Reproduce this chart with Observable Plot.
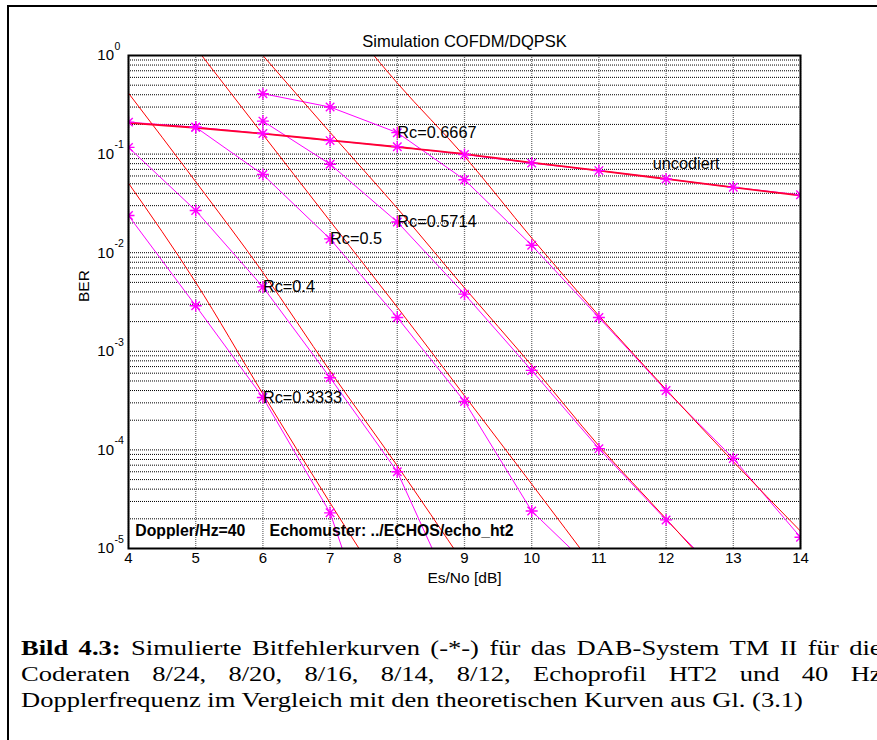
<!DOCTYPE html>
<html>
<head>
<meta charset="utf-8">
<script src="https://cdn.jsdelivr.net/npm/d3@7"></script>
<script src="https://cdn.jsdelivr.net/npm/@observablehq/plot@0.6"></script>
<style>
  html, body { margin: 0; padding: 0; background: #fff; overflow: hidden; }
  #page { position: relative; width: 877px; height: 740px; overflow: hidden; background: #fff; }
  #frame { position: absolute; left: 7px; top: 5px; width: 1000px; height: 1000px;
           border-left: 2px solid #000; border-top: 2px solid #000; }
  #chart { position: absolute; left: 0; top: 0; }
  #caption { position: absolute; left: 21px; top: 634.5px; width: 649px;
             transform: scaleX(1.326); transform-origin: 0 0;
             font-family: "Liberation Serif", "Times New Roman", serif; font-size: 20px;
             line-height: 26px; color: #000; white-space: nowrap; }
  #caption .j { text-align: justify; text-align-last: justify; white-space: normal; }
</style>
</head>
<body>
<div id="page">
  <div id="frame"></div>
  <div id="chart"></div>
  <div id="caption">
    <div class="j"><b>Bild 4.3:</b> Simulierte Bitfehlerkurven (-*-) für das DAB-System TM II für die</div>
    <div class="j">Coderaten 8/24, 8/20, 8/16, 8/14, 8/12, Echoprofil HT2 und 40 Hz</div>
    <div>Dopplerfrequenz im Vergleich mit den theoretischen Kurven aus Gl. (3.1)</div>
  </div>
</div>
<script>
// ---------- data ----------
const titleText = "Simulation COFDM/DQPSK";
const xLabel = "Es/No [dB]";
const yLabel = "BER";
const xTicks = [4, 5, 6, 7, 8, 9, 10, 11, 12, 13, 14];
const yMajorTicks = [1, 1e-1, 1e-2, 1e-3, 1e-4, 1e-5];

// simulated curves (magenta, -*-)
const simUncodedX = [4, 5, 6, 7, 8, 9, 10, 11, 12, 13, 14];
const simUncodedY = [0.211, 0.1875, 0.162, 0.137, 0.119, 0.099, 0.081, 0.068, 0.056, 0.046, 0.0386];
const simR3333X = [4, 5, 6, 7, 8];
const simR3333Y = [0.0238, 0.0029, 3.4e-4, 2.3e-5, 2.3e-7];
const simR4X = [4, 5, 6, 7, 8, 9];
const simR4Y = [0.117, 0.0268, 0.0045, 5.4e-4, 6.0e-5, 1.9e-6];
const simR5X = [5, 6, 7, 8, 9, 10, 11];
const simR5Y = [0.1875, 0.062, 0.0138, 2.2e-3, 3.1e-4, 2.4e-5, 5.3e-6];
const simR5714X = [6, 7, 8, 9, 10, 11, 12, 13];
const simR5714Y = [0.216, 0.079, 0.0205, 3.8e-3, 6.4e-4, 1.03e-4, 1.95e-5, 4.0e-6];
const simR6667X = [6, 7, 8, 9, 10, 11, 12, 13, 14];
const simR6667Y = [0.41, 0.30, 0.165, 0.055, 0.0119, 2.2e-3, 4.0e-4, 8.2e-5, 1.3e-5];

// theoretical curves (red)
const thUncodedX = [4, 5, 6, 7, 8, 9, 10, 11, 12, 13, 14];
const thUncodedY = [0.207, 0.185, 0.161, 0.138, 0.118, 0.100, 0.082, 0.068, 0.056, 0.046, 0.038];
const thR3333X = [4, 5, 6, 7, 8];
const thR3333Y = [0.0507, 5.0e-3, 3.7e-4, 2.9e-5, 2.5e-6];
const thR4X = [4, 5, 6, 7, 8, 9];
const thR4Y = [0.415, 0.0525, 6.3e-3, 6.3e-4, 6.9e-5, 6.9e-6];
const thR5X = [5, 6, 7, 8, 9, 10, 11];
const thR5Y = [1.2, 0.158, 0.0209, 2.8e-3, 3.55e-4, 4.5e-5, 5.6e-6];
const thR5714X = [6, 7, 8, 9, 10, 11, 12, 13];
const thR5714Y = [1.0, 0.166, 0.0282, 4.4e-3, 7.2e-4, 1.1e-4, 2.0e-5, 3.5e-6];
const thR6667X = [7, 8, 9, 10, 11, 12, 13, 14];
const thR6667Y = [3.5, 0.525, 0.095, 0.0141, 2.3e-3, 4.1e-4, 7.6e-5, 1.5e-5];

// annotations
const rateLabels = ["Rc=0.6667", "Rc=0.5714", "Rc=0.5", "Rc=0.4", "Rc=0.3333", "uncodiert"];
const rateLabelX = [8, 8, 7, 6, 6, 11.8];
const rateLabelY = [0.165, 0.0205, 0.0138, 0.0045, 3.4e-4, 0.0803];
const infoTexts = ["Doppler/Hz=40", "Echomuster: ../ECHOS/echo_ht2"];
const infoX = [4.1, 6.1];
const infoY = [1.5e-5, 1.5e-5];

// ---------- build tables ----------
function rows(name, xs, ys) { return xs.map((x, i) => ({series: name, x, y: ys[i]})); }
const simRows = [
  ...rows("uncodiert", simUncodedX, simUncodedY),
  ...rows("0.3333", simR3333X, simR3333Y),
  ...rows("0.4", simR4X, simR4Y),
  ...rows("0.5", simR5X, simR5Y),
  ...rows("0.5714", simR5714X, simR5714Y),
  ...rows("0.6667", simR6667X, simR6667Y)
];
const thCodedRows = [
  ...rows("0.3333", thR3333X, thR3333Y),
  ...rows("0.4", thR4X, thR4Y),
  ...rows("0.5", thR5X, thR5Y),
  ...rows("0.5714", thR5714X, thR5714Y),
  ...rows("0.6667", thR6667X, thR6667Y)
];
const thUncodedRows = rows("uncodiert", thUncodedX, thUncodedY);
const labelRows = rateLabels.map((t, i) => ({t, x: rateLabelX[i], y: rateLabelY[i]}));
const infoRows = infoTexts.map((t, i) => ({t, x: infoX[i], y: infoY[i]}));
const yGrid = d3.scaleLog().domain([1e-5, 1]).ticks();

// Matlab-style '*' marker: plus + cross
const asterisk = {
  draw(context, size) {
    const r = Math.sqrt(size / Math.PI);
    const d = r * Math.SQRT1_2;
    context.moveTo(-r, 0); context.lineTo(r, 0);
    context.moveTo(0, -r); context.lineTo(0, r);
    context.moveTo(-d, -d); context.lineTo(d, d);
    context.moveTo(-d, d); context.lineTo(d, -d);
  }
};

const W = 877, H = 600;
const chart = Plot.plot({
  width: W,
  height: H,
  marginLeft: 128,
  marginRight: 77,
  marginTop: 55,
  marginBottom: H - 548,
  style: {fontFamily: "'Liberation Sans', Arial, sans-serif", fontSize: "15px", background: "transparent", color: "#000"},
  x: {domain: [4, 14], axis: null},
  y: {type: "log", domain: [1e-5, 1], axis: null},
  marks: [
    Plot.ruleY(yGrid, {stroke: "#000", strokeDasharray: "1,1", strokeOpacity: 1}),
    Plot.ruleX(xTicks, {stroke: "#444", strokeDasharray: "1,1", strokeWidth: 1.3, strokeOpacity: 0.75}),
    Plot.line(simRows, {x: "x", y: "y", z: "series", stroke: "#ff00ff", strokeWidth: 1, clip: true}),
    Plot.line(thCodedRows, {x: "x", y: "y", z: "series", stroke: "#ff0000", strokeWidth: 1, curve: "monotone-x", clip: true}),
    Plot.line(thUncodedRows, {x: "x", y: "y", stroke: "#ff0033", strokeWidth: 1.8, curve: "monotone-x", clip: true}),
    Plot.dot(simRows, {x: "x", y: "y", symbol: asterisk, r: 6, stroke: "#ff00ff", fill: "none", strokeWidth: 1.4, clip: true}),
    Plot.frame({stroke: "#000", strokeWidth: 2}),
    // x tick labels
    Plot.text(xTicks, {x: d => d, frameAnchor: "bottom", dy: 14, text: d => String(d), fontSize: 15}),
    // y tick labels: "10" + superscript exponent
    Plot.text(yMajorTicks, {y: d => d, frameAnchor: "left", dx: -14.5, textAnchor: "end", text: () => "10", fontSize: 15}),
    Plot.text(yMajorTicks, {y: d => d, frameAnchor: "left", dx: -14, dy: -9, textAnchor: "start", text: d => String(Math.round(Math.log10(d))), fontSize: 10.5}),
    // axis labels and title
    Plot.text([xLabel], {frameAnchor: "bottom", dy: 34, text: d => d, fontSize: 15.5}),
    Plot.text([yLabel], {frameAnchor: "left", dx: -44, rotate: -90, text: d => d, fontSize: 15.5}),
    Plot.text([titleText], {frameAnchor: "top", dy: -20, text: d => d, fontSize: 16.5}),
    // in-plot annotations
    Plot.text(labelRows, {x: "x", y: "y", text: "t", textAnchor: "start", fontSize: 16.3}),
    Plot.text(infoRows, {x: "x", y: "y", text: "t", textAnchor: "start", fontSize: 15.8, fontWeight: "bold"})
  ]
});
document.getElementById("chart").appendChild(chart);
</script>
</body>
</html>
